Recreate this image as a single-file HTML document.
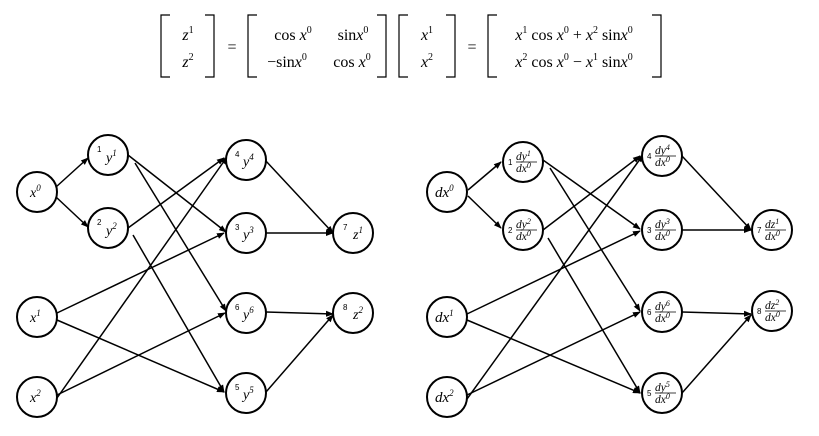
<!DOCTYPE html>
<html><head><meta charset="utf-8"><style>
html,body{margin:0;padding:0;background:#fff;}
svg{display:block;}
text{font-family:"Liberation Serif",serif;fill:#000;}
.i{font-style:italic;}
.n{font-family:"Liberation Sans",sans-serif;font-size:8px;font-style:normal;}
</style></head><body>
<svg width="819" height="436" viewBox="0 0 819 436" xmlns="http://www.w3.org/2000/svg">
<defs>
<marker id="a" markerWidth="8" markerHeight="8" refX="7" refY="4" orient="auto" markerUnits="userSpaceOnUse">
<path d="M0,1 L8,4 L0,7 Z" fill="#000"/></marker>
</defs>
<g stroke="#000" stroke-width="1.2" fill="none">
<path d="M170,15 H161 V77 H170"/><path d="M205,15 H214 V77 H205"/>
<path d="M257,15 H248 V77 H257"/><path d="M377,15 H386 V77 H377"/>
<path d="M408,15 H399 V77 H408"/><path d="M446,15 H455 V77 H446"/>
<path d="M497,15 H488 V77 H497"/><path d="M652,15 H661 V77 H652"/>
</g>
<g font-size="16">
<text x="188" y="40" text-anchor="middle"><tspan class="i">z</tspan><tspan font-size="10" dy="-7">1</tspan></text>
<text x="188" y="67" text-anchor="middle"><tspan class="i">z</tspan><tspan font-size="10" dy="-7">2</tspan></text>
<text x="232" y="52" text-anchor="middle">=</text>
<text x="293" y="40" text-anchor="middle">cos<tspan class="i"> x</tspan><tspan font-size="10" dy="-7">0</tspan></text>
<text x="353" y="40" text-anchor="middle">sin<tspan class="i">x</tspan><tspan font-size="10" dy="-7">0</tspan></text>
<text x="287" y="67" text-anchor="middle">−sin<tspan class="i">x</tspan><tspan font-size="10" dy="-7">0</tspan></text>
<text x="352" y="67" text-anchor="middle">cos<tspan class="i"> x</tspan><tspan font-size="10" dy="-7">0</tspan></text>
<text x="427" y="40" text-anchor="middle"><tspan class="i">x</tspan><tspan font-size="10" dy="-7">1</tspan></text>
<text x="427" y="67" text-anchor="middle"><tspan class="i">x</tspan><tspan font-size="10" dy="-7">2</tspan></text>
<text x="472" y="52" text-anchor="middle">=</text>
<text x="574" y="40" text-anchor="middle"><tspan class="i">x</tspan><tspan font-size="10" dy="-7">1</tspan><tspan dy="7"> cos</tspan><tspan class="i"> x</tspan><tspan font-size="10" dy="-7">0</tspan><tspan dy="7"> + </tspan><tspan class="i">x</tspan><tspan font-size="10" dy="-7">2</tspan><tspan dy="7"> sin</tspan><tspan class="i">x</tspan><tspan font-size="10" dy="-7">0</tspan></text>
<text x="574" y="67" text-anchor="middle"><tspan class="i">x</tspan><tspan font-size="10" dy="-7">2</tspan><tspan dy="7"> cos</tspan><tspan class="i"> x</tspan><tspan font-size="10" dy="-7">0</tspan><tspan dy="7"> − </tspan><tspan class="i">x</tspan><tspan font-size="10" dy="-7">1</tspan><tspan dy="7"> sin</tspan><tspan class="i">x</tspan><tspan font-size="10" dy="-7">0</tspan></text>
</g>

<g stroke="#000" stroke-width="1.5" marker-end="url(#a)">
<line x1="56" y1="187" x2="88" y2="158"/>
<line x1="56" y1="197" x2="88" y2="227"/>
<line x1="128" y1="155" x2="226" y2="232"/>
<line x1="135" y1="163" x2="226" y2="311"/>
<line x1="128" y1="228" x2="224" y2="158"/>
<line x1="133" y1="235" x2="224" y2="392"/>
<line x1="57" y1="313" x2="224" y2="233"/>
<line x1="57" y1="320" x2="224" y2="392"/>
<line x1="57" y1="398" x2="227" y2="157"/>
<line x1="57" y1="395" x2="225" y2="313"/>
<line x1="265" y1="160" x2="333" y2="233"/>
<line x1="266" y1="233" x2="333" y2="233"/>
<line x1="266" y1="312" x2="333" y2="314"/>
<line x1="266" y1="392" x2="333" y2="315"/>
</g>
<g stroke="#000" stroke-width="1.5" marker-end="url(#a)">
<line x1="468" y1="190" x2="501" y2="162"/>
<line x1="468" y1="196" x2="501" y2="228"/>
<line x1="543" y1="160" x2="640" y2="229"/>
<line x1="550" y1="168" x2="640" y2="311"/>
<line x1="543" y1="230" x2="640" y2="156"/>
<line x1="548" y1="238" x2="640" y2="393"/>
<line x1="467" y1="314" x2="640" y2="231"/>
<line x1="467" y1="320" x2="640" y2="393"/>
<line x1="467" y1="399" x2="643" y2="155"/>
<line x1="467" y1="395" x2="640" y2="312"/>
<line x1="682" y1="156" x2="751" y2="230"/>
<line x1="682" y1="230" x2="751" y2="230"/>
<line x1="682" y1="312" x2="751" y2="314"/>
<line x1="682" y1="393" x2="751" y2="315"/>
</g>

<g stroke="#000" stroke-width="2" fill="#fff">
<circle cx="37" cy="192" r="20"/><circle cx="108" cy="155" r="20"/><circle cx="108" cy="228" r="20"/>
<circle cx="37" cy="317" r="20"/><circle cx="37" cy="397" r="20"/>
<circle cx="246" cy="160" r="20"/><circle cx="246" cy="233" r="20"/><circle cx="246" cy="313" r="20"/><circle cx="246" cy="393" r="20"/>
<circle cx="353" cy="233" r="20"/><circle cx="353" cy="313" r="20"/>
<circle cx="447" cy="192" r="20"/><circle cx="523" cy="162" r="20"/><circle cx="523" cy="230" r="20"/>
<circle cx="447" cy="317" r="20"/><circle cx="447" cy="397" r="20"/>
<circle cx="662" cy="156" r="20"/><circle cx="662" cy="230" r="20"/><circle cx="662" cy="312" r="20"/><circle cx="662" cy="393" r="20"/>
<circle cx="772" cy="230" r="20"/><circle cx="772" cy="311" r="20"/>
</g>

<g font-size="14">
<text x="30" y="197" class="i">x<tspan font-size="9" dy="-6">0</tspan></text>
<text x="30" y="322" class="i">x<tspan font-size="9" dy="-6">1</tspan></text>
<text x="30" y="402" class="i">x<tspan font-size="9" dy="-6">2</tspan></text>
<text x="97" y="152" class="n">1</text><text x="106" y="162" class="i">y<tspan font-size="9" dy="-6">1</tspan></text>
<text x="97" y="225" class="n">2</text><text x="106" y="235" class="i">y<tspan font-size="9" dy="-6">2</tspan></text>
<text x="235" y="157" class="n">4</text><text x="243" y="166" class="i">y<tspan font-size="9" dy="-6">4</tspan></text>
<text x="235" y="230" class="n">3</text><text x="243" y="239" class="i">y<tspan font-size="9" dy="-6">3</tspan></text>
<text x="235" y="310" class="n">6</text><text x="243" y="319" class="i">y<tspan font-size="9" dy="-6">6</tspan></text>
<text x="235" y="390" class="n">5</text><text x="243" y="399" class="i">y<tspan font-size="9" dy="-6">5</tspan></text>
<text x="343" y="230" class="n">7</text><text x="353" y="239" class="i">z<tspan font-size="9" dy="-6">1</tspan></text>
<text x="343" y="310" class="n">8</text><text x="353" y="319" class="i">z<tspan font-size="9" dy="-6">2</tspan></text>
<text x="435" y="197" class="i" font-size="15">dx<tspan font-size="9" dy="-6">0</tspan></text>
<text x="435" y="322" class="i" font-size="15">dx<tspan font-size="9" dy="-6">1</tspan></text>
<text x="435" y="402" class="i" font-size="15">dx<tspan font-size="9" dy="-6">2</tspan></text>
</g>
<g font-size="11.5">
<g transform="translate(508,162)"><text x="0" y="3" class="n">1</text><text x="8" y="-2" class="i">dy<tspan font-size="8" dy="-4">1</tspan></text><line x1="8" y1="0" x2="29" y2="0" stroke="#000" stroke-width="0.7"/><text x="8" y="10" class="i">dx<tspan font-size="8" dy="-4">0</tspan></text></g>
<g transform="translate(508,230)"><text x="0" y="3" class="n">2</text><text x="8" y="-2" class="i">dy<tspan font-size="8" dy="-4">2</tspan></text><line x1="8" y1="0" x2="29" y2="0" stroke="#000" stroke-width="0.7"/><text x="8" y="10" class="i">dx<tspan font-size="8" dy="-4">0</tspan></text></g>
<g transform="translate(647,156)"><text x="0" y="3" class="n">4</text><text x="8" y="-2" class="i">dy<tspan font-size="8" dy="-4">4</tspan></text><line x1="8" y1="0" x2="29" y2="0" stroke="#000" stroke-width="0.7"/><text x="8" y="10" class="i">dx<tspan font-size="8" dy="-4">0</tspan></text></g>
<g transform="translate(647,230)"><text x="0" y="3" class="n">3</text><text x="8" y="-2" class="i">dy<tspan font-size="8" dy="-4">3</tspan></text><line x1="8" y1="0" x2="29" y2="0" stroke="#000" stroke-width="0.7"/><text x="8" y="10" class="i">dx<tspan font-size="8" dy="-4">0</tspan></text></g>
<g transform="translate(647,312)"><text x="0" y="3" class="n">6</text><text x="8" y="-2" class="i">dy<tspan font-size="8" dy="-4">6</tspan></text><line x1="8" y1="0" x2="29" y2="0" stroke="#000" stroke-width="0.7"/><text x="8" y="10" class="i">dx<tspan font-size="8" dy="-4">0</tspan></text></g>
<g transform="translate(647,393)"><text x="0" y="3" class="n">5</text><text x="8" y="-2" class="i">dy<tspan font-size="8" dy="-4">5</tspan></text><line x1="8" y1="0" x2="29" y2="0" stroke="#000" stroke-width="0.7"/><text x="8" y="10" class="i">dx<tspan font-size="8" dy="-4">0</tspan></text></g>
<g transform="translate(757,230)"><text x="0" y="3" class="n">7</text><text x="8" y="-2" class="i">dz<tspan font-size="8" dy="-4">1</tspan></text><line x1="8" y1="0" x2="29" y2="0" stroke="#000" stroke-width="0.7"/><text x="8" y="10" class="i">dx<tspan font-size="8" dy="-4">0</tspan></text></g>
<g transform="translate(757,311)"><text x="0" y="3" class="n">8</text><text x="8" y="-2" class="i">dz<tspan font-size="8" dy="-4">2</tspan></text><line x1="8" y1="0" x2="29" y2="0" stroke="#000" stroke-width="0.7"/><text x="8" y="10" class="i">dx<tspan font-size="8" dy="-4">0</tspan></text></g>
</g>
</svg>
</body></html>
